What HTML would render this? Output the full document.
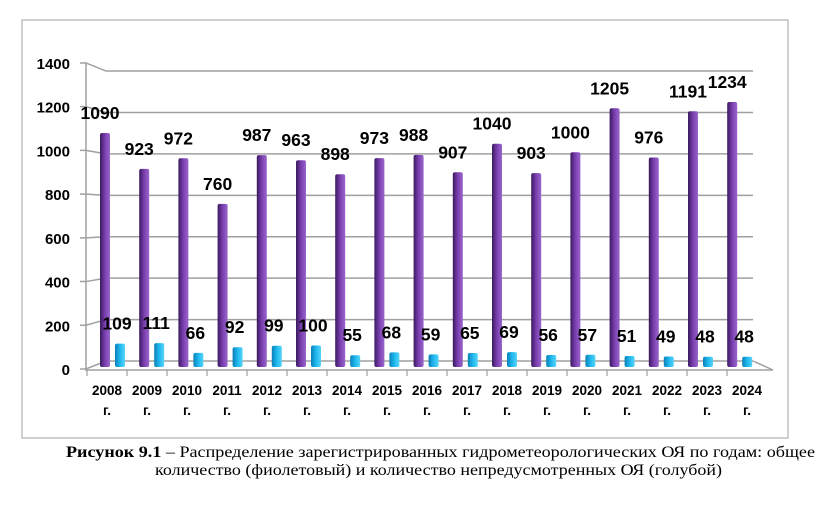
<!DOCTYPE html>
<html><head><meta charset="utf-8"><style>
body{margin:0;background:#fff;width:829px;height:500px;overflow:hidden}
svg text{font-family:"Liberation Sans","DejaVu Sans",sans-serif}
</style></head><body>
<svg width="829" height="500">
<defs>
<linearGradient id="gp" x1="0" x2="1"><stop offset="0" stop-color="#3a1a5e"/><stop offset="0.5" stop-color="#7a3fb0"/><stop offset="1" stop-color="#9a66cc"/></linearGradient>
<linearGradient id="gc" x1="0" x2="1"><stop offset="0" stop-color="#0a7fb8"/><stop offset="0.5" stop-color="#1fb8ee"/><stop offset="1" stop-color="#58d4f8"/></linearGradient>
</defs>
<rect x="22" y="20" width="766" height="418" fill="#fff" stroke="#c0c0c0" stroke-width="1.5"/>
<g id="axes"></g><g id="bars"></g><g id="labels"></g>
<text x="66" y="457" font-size="15.5" textLength="749" lengthAdjust="spacingAndGlyphs" style="font-family:'Liberation Serif',serif"><tspan font-weight="bold">Рисунок 9.1</tspan> – Распределение зарегистрированных гидрометеорологических ОЯ по годам: общее</text>
<text x="155" y="475" font-size="15.5" textLength="567" lengthAdjust="spacingAndGlyphs" style="font-family:'Liberation Serif',serif">количество (фиолетовый) и количество непредусмотренных ОЯ (голубой)</text>
</svg>
<script>
const years=["2008","2009","2010","2011","2012","2013","2014","2015","2016","2017","2018","2019","2020","2021","2022","2023","2024"];
const totalEvents=[1090,923,972,760,987,963,898,973,988,907,1040,903,1000,1205,976,1191,1234];
const unforeseenEvents=[109,111,66,92,99,100,55,68,59,65,69,56,57,51,49,48,48];
const yTicks=[0,200,400,600,800,1000,1200,1400];
const NS="http://www.w3.org/2000/svg";
function mk(p,t,a,txt){const e=document.createElementNS(NS,t);for(const k in a)e.setAttribute(k,a[k]);if(txt!=null)e.textContent=txt;p.appendChild(e);return e;}
const yFront=v=>369-v*0.2186, yBack=v=>361-v*0.2071, yBar=v=>367-v*0.2147;
const xBar=i=>100+39.2*i, xCat=i=>107+40*i;
const ax=document.getElementById('axes'),bg=document.getElementById('bars'),lg=document.getElementById('labels');
yTicks.forEach(v=>{
 let g=mk(ax,'polyline',{points:`80,${yFront(v)} 86,${yFront(v)} 106,${yBack(v)} 753,${yBack(v)}`,fill:'none',stroke:'#a0a0a0','stroke-width':1.5});
 
 
 let t=mk(ax,'text',{x:70,y:yFront(v)+6,'text-anchor':'end','font-size':15,'font-weight':'bold'},v);
 
 
});
mk(ax,'line',{x1:86,y1:yFront(1400),x2:86,y2:yFront(0)+2,stroke:'#a0a0a0','stroke-width':1.5});
mk(ax,'polyline',{points:`86,370 773,370 753,361`,fill:'none',stroke:'#a0a0a0','stroke-width':1.5});
years.forEach((y,i)=>{
 mk(ax,'line',{x1:87+40*i,y1:370,x2:87+40*i,y2:376,stroke:'#a0a0a0','stroke-width':1.2});
 const px=xBar(i),cx=px+15;
 let b=mk(bg,'rect',{x:px,y:yBar(totalEvents[i]),width:10,height:yBar(0)-yBar(totalEvents[i]),fill:'url(#gp)',rx:2});
 
 
 let c=mk(bg,'rect',{x:cx,y:yBar(unforeseenEvents[i]),width:10,height:yBar(0)-yBar(unforeseenEvents[i]),fill:'url(#gc)',rx:2});
 
 
 let l1=mk(lg,'text',{x:px,y:yBar(totalEvents[i])-14,'text-anchor':'middle','font-size':17.5,'font-weight':'bold'},totalEvents[i]);
 
 
 let l2=mk(lg,'text',{x:cx+2,y:yBar(unforeseenEvents[i])-14,'text-anchor':'middle','font-size':17.5,'font-weight':'bold'},unforeseenEvents[i]);
 
 
 let xl=mk(lg,'text',{x:xCat(i),y:395,'text-anchor':'middle','font-size':13.5,'font-weight':'bold'},y);
 
 
 let gl=mk(lg,'text',{x:xCat(i),y:415,'text-anchor':'middle','font-size':13.5,'font-weight':'bold'},'г.');
 
 
});
</script>
</body></html>
